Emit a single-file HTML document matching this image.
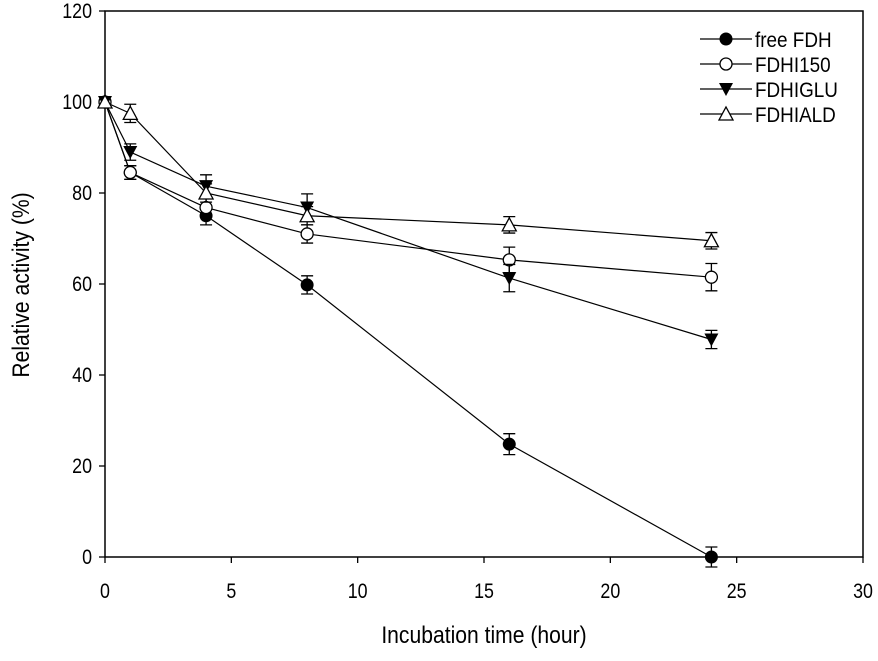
<!DOCTYPE html>
<html><head><meta charset="utf-8"><style>
html,body{margin:0;padding:0;background:#fff;}
svg text{font-family:"Liberation Sans",Arial,sans-serif;fill:#000;}
</style></head><body>
<svg id="chart" width="878" height="656" viewBox="0 0 878 656" xmlns="http://www.w3.org/2000/svg"></svg>
<script>
const xTicks=[0,5,10,15,20,25,30];
const yTicks=[0,20,40,60,80,100,120];
const times=[0,1,4,8,16,24];
const seriesNames=["free FDH","FDHI150","FDHIGLU","FDHIALD"];
const freeFDH=[100,84.5,75,59.8,24.8,0];
const freeFDHErr=[0,1.5,2,2,2.3,2.2];
const fdhi150=[100,84.5,76.8,71,65.3,61.5];
const fdhi150Err=[0,1.5,2,2,2.8,3];
const fdhiglu=[100,89,81.5,76.8,61.3,47.8];
const fdhigluErr=[0,1.8,2.5,3,3,2];
const fdhiald=[100,97.5,80,75,73,69.5];
const fdhialdErr=[0,2,2,2,1.8,1.8];

const X0=105,X1=863,Y0=557,Y1=11;
const sx=v=>X0+(v-0)/30*(X1-X0);
const sy=v=>Y0-(v-0)/120*(Y0-Y1);
const svg=document.getElementById('chart');
const NS="http://www.w3.org/2000/svg";
function mk(tag,attrs,parent){const e=document.createElementNS(NS,tag);for(const k in attrs)e.setAttribute(k,attrs[k]);(parent||svg).appendChild(e);return e;}

const frame=mk('rect',{x:X0,y:Y1,width:X1-X0,height:Y0-Y1,fill:'none',stroke:'#000','stroke-width':1.5});



xTicks.forEach(t=>{
  const l=mk('line',{x1:sx(t),x2:sx(t),y1:Y0,y2:Y0+6,stroke:'#000','stroke-width':1.3});
  
  
  const tx=mk('text',{x:sx(t),y:Y0+41,'font-size':21,'text-anchor':'middle',transform:`translate(${sx(t)},0) scale(0.85,1) translate(${-sx(t)},0)`});
  tx.textContent=t;
  
  
});
yTicks.forEach(t=>{
  const l=mk('line',{x1:X0-6,x2:X0,y1:sy(t),y2:sy(t),stroke:'#000','stroke-width':1.3});
  
  
  const tx=mk('text',{x:X0-13,y:sy(t)+7,'font-size':21,'text-anchor':'end',transform:`translate(${X0-13},0) scale(0.85,1) translate(${-(X0-13)},0)`});
  tx.textContent=t;
  
  
});
const xt=mk('text',{x:484,y:643,'font-size':24,'text-anchor':'middle',transform:'translate(484,0) scale(0.88,1) translate(-484,0)'});
xt.textContent='Incubation time (hour)';


const yt=mk('text',{x:0,y:0,'font-size':24,'text-anchor':'middle',transform:'translate(29,285) rotate(-90) scale(0.88,1)'});
yt.textContent='Relative activity (%)';



function marker(type,cx,cy,g){
  if(type===0) return mk('circle',{cx,cy,r:6,fill:'#000',stroke:'#000'},g);
  if(type===1) return mk('circle',{cx,cy,r:6,fill:'#fff',stroke:'#000','stroke-width':1.3},g);
  if(type===2) return mk('polygon',{points:`${cx-7},${cy-6} ${cx+7},${cy-6} ${cx},${cy+7}`,fill:'#000'},g);
  return mk('polygon',{points:`${cx-7},${cy+6} ${cx+7},${cy+6} ${cx},${cy-7}`,fill:'#fff',stroke:'#000','stroke-width':1.3},g);
}
const allVals=[freeFDH,fdhi150,fdhiglu,fdhiald];
const allErr=[freeFDHErr,fdhi150Err,fdhigluErr,fdhialdErr];
const slugs=['free-fdh','fdhi150','fdhiglu','fdhiald'];
allVals.forEach((vals,si)=>{
  const g=mk('g',{});
  
  
  const pts=times.map((t,i)=>`${sx(t)},${sy(vals[i])}`).join(' ');
  const pl=mk('polyline',{points:pts,fill:'none',stroke:'#000','stroke-width':1.2},g);
  
  
  times.forEach((t,i)=>{
    const e=allErr[si][i];
    if(e>0){
      const cx=sx(t),a=sy(vals[i]+e),b=sy(vals[i]-e);
      const eb=mk('path',{d:`M${cx},${a}V${b}M${cx-6},${a}H${cx+6}M${cx-6},${b}H${cx+6}`,stroke:'#000','stroke-width':1.3,fill:'none'},g);
      
      
    }
    const m=marker(si,sx(t),sy(vals[i]),g);
    
    
  });
});
const legY=[39,64,89,114];
seriesNames.forEach((n,i)=>{
  const g=mk('g',{});
  
  
  mk('line',{x1:700,x2:752,y1:legY[i],y2:legY[i],stroke:'#000','stroke-width':1.2},g);
  marker(i,726,legY[i],g);
  const tx=mk('text',{x:755,y:legY[i]+8,'font-size':21,transform:`translate(755,0) scale(0.9,1) translate(-755,0)`},g);
  tx.textContent=n;
});
</script>
</body></html>
